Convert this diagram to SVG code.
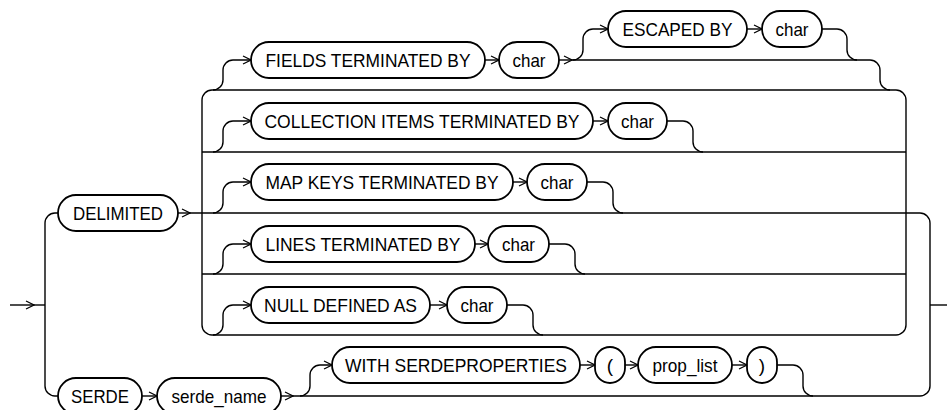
<svg xmlns="http://www.w3.org/2000/svg" width="947" height="410" viewBox="0 0 947 410">
<defs>
<marker id="ar" markerUnits="userSpaceOnUse" markerWidth="10" markerHeight="10" viewBox="0 0 8 10" refX="8" refY="5" orient="auto">
<path d="M0,1 L8,5 L0,9" fill="none" stroke="#000" stroke-width="1.2"/>
</marker>
<style>
.b{fill:#fff;stroke:#000;stroke-width:1.8}
.t{font-family:"Liberation Sans",Arial,sans-serif;font-size:19px;text-anchor:middle;fill:#000}
.c{fill:none;stroke:#000;stroke-width:1.4}
.a{marker-end:url(#ar)}
</style>
</defs>
<rect width="947" height="410" fill="#fff"/>
<g id="connectors">
<path class="c a" d="M10 305 H34"/>
<path class="c" d="M34 305 H45"/>
<path class="c" d="M58 213 H55 A10 10 0 0 0 45 223 V386 A10 10 0 0 0 55 396 H58"/>
<path class="c a" d="M178 213 H190"/>
<path class="c" d="M190 213 H920 A10 10 0 0 1 930 223 V386 A10 10 0 0 1 920 396 H293"/>
<path class="c a" d="M142 396 H157"/>
<path class="c a" d="M281 396 H293"/>
<path class="c" d="M930 305 H947"/>
<path class="c" d="M212 90 A10 10 0 0 0 202 100 V325 A10 10 0 0 0 212 335"/>
<path class="c" d="M896 90 A10 10 0 0 1 906 100 V325 A10 10 0 0 1 896 335"/>
<path class="c" d="M212 90 H896"/>
<path class="c" d="M202 152 H906"/>
<path class="c" d="M202 274 H906"/>
<path class="c" d="M212 335 H896"/>
<path class="c a" d="M213 90 A10 10 0 0 0 223 80 V70 A10 10 0 0 1 233 60 H251"/>
<path class="c a" d="M213 152 A10 10 0 0 0 223 142 V131 A10 10 0 0 1 233 121 H251"/>
<path class="c a" d="M213 213 A10 10 0 0 0 223 203 V192 A10 10 0 0 1 233 182 H251"/>
<path class="c a" d="M213 274 A10 10 0 0 0 223 264 V254 A10 10 0 0 1 233 244 H251"/>
<path class="c a" d="M213 335 A10 10 0 0 0 223 325 V315 A10 10 0 0 1 233 305 H251"/>
<path class="c a" d="M485 60 H499"/>
<path class="c a" d="M559 60 H572"/>
<path class="c" d="M572 60 H870 A10 10 0 0 1 880 70 V80 A10 10 0 0 0 890 90"/>
<path class="c a" d="M573 60 A10 10 0 0 0 583 50 V39 A10 10 0 0 1 593 29 H608"/>
<path class="c a" d="M747 29 H762"/>
<path class="c" d="M822 29 H837 A10 10 0 0 1 847 39 V50 A10 10 0 0 0 857 60"/>
<path class="c a" d="M593 121 H608"/>
<path class="c" d="M667 121 H683 A10 10 0 0 1 693 131 V142 A10 10 0 0 0 703 152"/>
<path class="c a" d="M513 182 H527"/>
<path class="c" d="M587 182 H603 A10 10 0 0 1 613 192 V203 A10 10 0 0 0 623 213"/>
<path class="c a" d="M475 244 H488"/>
<path class="c" d="M549 244 H565 A10 10 0 0 1 575 254 V264 A10 10 0 0 0 585 274"/>
<path class="c a" d="M430 305 H447"/>
<path class="c" d="M507 305 H523 A10 10 0 0 1 533 315 V325 A10 10 0 0 0 543 335"/>
<path class="c a" d="M300 396 A10 10 0 0 0 310 386 V375 A10 10 0 0 1 320 365 H332"/>
<path class="c a" d="M580 365 H595"/>
<path class="c a" d="M625 365 H638"/>
<path class="c a" d="M732 365 H747"/>
<path class="c" d="M777 365 H793 A10 10 0 0 1 803 375 V386 A10 10 0 0 0 813 396"/>
</g>
<g id="n-delimited"><rect class="b" x="58" y="195" width="120" height="36" rx="18"/><text class="t" x="118" y="220" textLength="90" lengthAdjust="spacingAndGlyphs">DELIMITED</text></g>
<g id="n-fields"><rect class="b" x="251" y="42" width="234" height="36" rx="18"/><text class="t" x="368" y="67" textLength="205" lengthAdjust="spacingAndGlyphs">FIELDS TERMINATED BY</text></g>
<g id="n-fields-char"><rect class="b" x="499" y="42" width="60" height="36" rx="18"/><text class="t" x="529" y="67" textLength="33" lengthAdjust="spacingAndGlyphs">char</text></g>
<g id="n-escaped"><rect class="b" x="608" y="11" width="139" height="36" rx="18"/><text class="t" x="677.5" y="36" textLength="110" lengthAdjust="spacingAndGlyphs">ESCAPED BY</text></g>
<g id="n-escaped-char"><rect class="b" x="762" y="11" width="60" height="36" rx="18"/><text class="t" x="792" y="36" textLength="33" lengthAdjust="spacingAndGlyphs">char</text></g>
<g id="n-collection"><rect class="b" x="251" y="103" width="342" height="36" rx="18"/><text class="t" x="422" y="128" textLength="315" lengthAdjust="spacingAndGlyphs">COLLECTION ITEMS TERMINATED BY</text></g>
<g id="n-collection-char"><rect class="b" x="608" y="103" width="59" height="36" rx="18"/><text class="t" x="637.5" y="128" textLength="33" lengthAdjust="spacingAndGlyphs">char</text></g>
<g id="n-mapkeys"><rect class="b" x="251" y="164" width="262" height="36" rx="18"/><text class="t" x="382" y="189" textLength="233" lengthAdjust="spacingAndGlyphs">MAP KEYS TERMINATED BY</text></g>
<g id="n-mapkeys-char"><rect class="b" x="527" y="164" width="60" height="36" rx="18"/><text class="t" x="557" y="189" textLength="33" lengthAdjust="spacingAndGlyphs">char</text></g>
<g id="n-lines"><rect class="b" x="251" y="226" width="224" height="36" rx="18"/><text class="t" x="363" y="251" textLength="195" lengthAdjust="spacingAndGlyphs">LINES TERMINATED BY</text></g>
<g id="n-lines-char"><rect class="b" x="488" y="226" width="61" height="36" rx="18"/><text class="t" x="518.5" y="251" textLength="33" lengthAdjust="spacingAndGlyphs">char</text></g>
<g id="n-null"><rect class="b" x="251" y="287" width="179" height="36" rx="18"/><text class="t" x="340.5" y="312" textLength="153" lengthAdjust="spacingAndGlyphs">NULL DEFINED AS</text></g>
<g id="n-null-char"><rect class="b" x="447" y="287" width="60" height="36" rx="18"/><text class="t" x="477" y="312" textLength="33" lengthAdjust="spacingAndGlyphs">char</text></g>
<g id="n-serde"><rect class="b" x="58" y="378" width="84" height="36" rx="18"/><text class="t" x="100" y="403" textLength="58" lengthAdjust="spacingAndGlyphs">SERDE</text></g>
<g id="n-serde-name"><rect class="b" x="157" y="378" width="124" height="36" rx="18"/><text class="t" x="219" y="403" textLength="95" lengthAdjust="spacingAndGlyphs">serde_name</text></g>
<g id="n-with"><rect class="b" x="332" y="347" width="248" height="36" rx="18"/><text class="t" x="456" y="372" textLength="222" lengthAdjust="spacingAndGlyphs">WITH SERDEPROPERTIES</text></g>
<g id="n-lparen"><rect class="b" x="595" y="347" width="30" height="36" rx="15"/><text class="t" x="610" y="372">(</text></g>
<g id="n-prop-list"><rect class="b" x="638" y="347" width="94" height="36" rx="18"/><text class="t" x="685" y="372" textLength="65" lengthAdjust="spacingAndGlyphs">prop_list</text></g>
<g id="n-rparen"><rect class="b" x="747" y="347" width="30" height="36" rx="15"/><text class="t" x="762" y="372">)</text></g>
</svg>
